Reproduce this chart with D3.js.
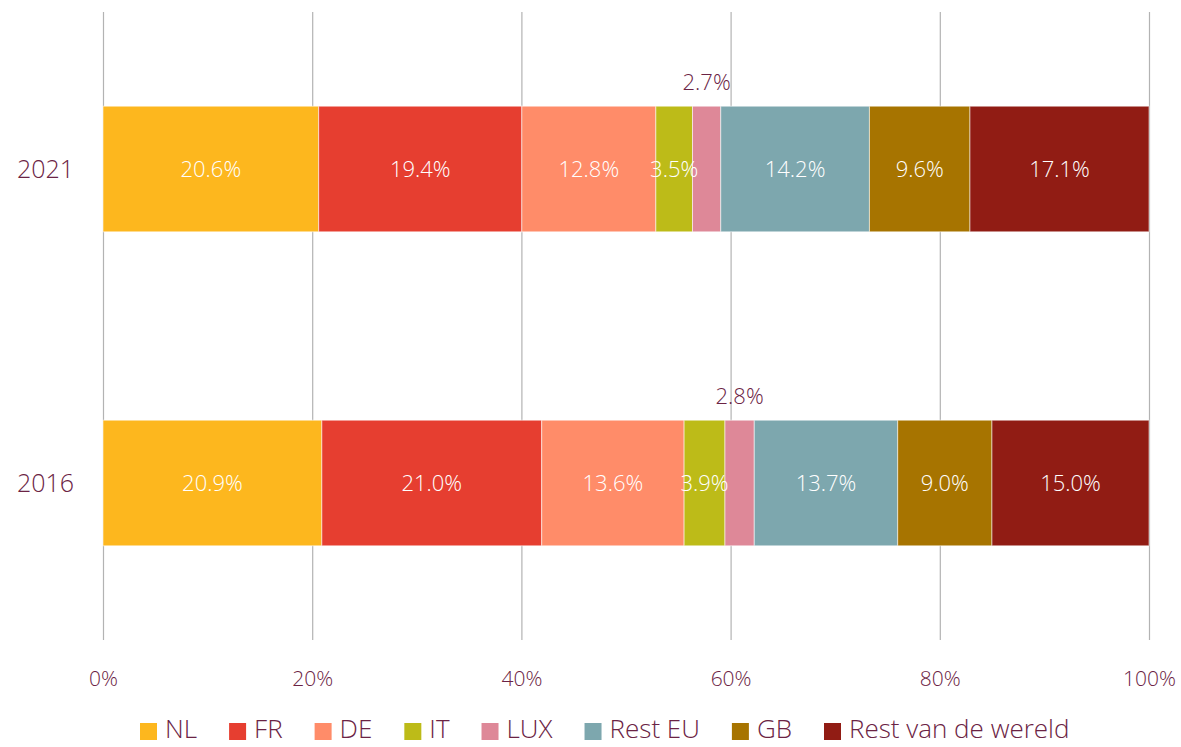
<!DOCTYPE html>
<html>
<head>
<meta charset="utf-8">
<script src="https://cdn.jsdelivr.net/npm/d3@7"></script>
<style>
  body { margin: 0; background: #fff; }
  svg { font-family: "Open Sans", Lato, sans-serif; font-weight: 300; }
</style>
</head>
<body>
<svg id="chart" width="1181" height="747"></svg>
<script>
// shares per origin, 100% stacked
const years = ['2021', '2016'];
const seriesNames = ['NL', 'FR', 'DE', 'IT', 'LUX', 'Rest EU', 'GB', 'Rest van de wereld'];
const colors = ['#FDB71E', '#E63E30', '#FF8C69', '#BDBB18', '#DE8898', '#7DA7AE', '#A77400', '#911C14'];
const values2021 = [20.6, 19.4, 12.8, 3.5, 2.7, 14.2, 9.6, 17.1];
const values2016 = [20.9, 21.0, 13.6, 3.9, 2.8, 13.7, 9.0, 15.0];
const ticks = [0, 20, 40, 60, 80, 100];

const textColor = '#6B2344';
const svg = d3.select('#chart');

const x = d3.scaleLinear().domain([0, 100]).range([103, 1149]);
const y = d3.scaleBand().domain(years).range([12, 640]).paddingInner(0.6).paddingOuter(0.3);

// grid + tick labels
const xAxis = svg.append('g')
  .attr('transform', 'translate(0,640)')
  .call(d3.axisBottom(x).tickValues(ticks).tickSize(-628).tickFormat(d => d + '%'))
  .attr('font-family', null);
xAxis.select('.domain').remove();
xAxis.selectAll('line').attr('stroke', '#b3b3b3').attr('stroke-width', 1.2);
xAxis.selectAll('text')
  .attr('dy', 0).attr('y', 46)
  .attr('fill', textColor).attr('font-size', 21);

// build rows
const rows = { '2021': values2021, '2016': values2016 };
const segs = [];
years.forEach(yr => {
  const vals = rows[yr];
  const total = d3.sum(vals);
  let acc = 0;
  vals.forEach((v, i) => {
    const a = acc / total * 100;
    acc += v;
    segs.push({ year: yr, name: seriesNames[i], value: v, x0: a, x1: acc / total * 100, color: colors[i] });
  });
});

svg.append('g').selectAll('rect')
  .data(segs)
  .enter().append('rect')
  .attr('x', d => x(d.x0))
  .attr('y', d => y(d.year))
  .attr('width', d => x(d.x1) - x(d.x0))
  .attr('height', y.bandwidth())
  .attr('fill', d => d.color)
  .attr('stroke', 'rgba(255,255,255,0.55)')
  .attr('stroke-width', 1);

// value labels, LUX sits above the bar
svg.append('g').selectAll('text')
  .data(segs)
  .enter().append('text')
  .attr('x', d => x((d.x0 + d.x1) / 2))
  .attr('y', d => d.name === 'LUX' ? y(d.year) - 16 : y(d.year) + y.bandwidth() / 2 + 8)
  .attr('text-anchor', 'middle')
  .attr('font-size', 22)
  .attr('fill', d => d.name === 'LUX' ? textColor : '#fff')
  .text(d => d.value.toFixed(1) + '%');

// year labels
svg.append('g').selectAll('text')
  .data(years)
  .enter().append('text')
  .attr('x', 74)
  .attr('y', d => y(d) + y.bandwidth() / 2 + 9)
  .attr('text-anchor', 'end')
  .attr('font-size', 25)
  .attr('fill', textColor)
  .text(d => d);

// legend
const legend = svg.append('g').attr('transform', 'translate(140,738)');
let lx = 0;
seriesNames.forEach((name, i) => {
  const g = legend.append('g').attr('transform', `translate(${lx},0)`);
  g.append('rect').attr('x', 0).attr('y', -15).attr('width', 17).attr('height', 17).attr('fill', colors[i]);
  const t = g.append('text').attr('x', 25).attr('y', 0).attr('font-size', 26).attr('fill', textColor).text(name);
  lx += 25 + t.node().getComputedTextLength() + 32;
});
</script>
</body>
</html>
